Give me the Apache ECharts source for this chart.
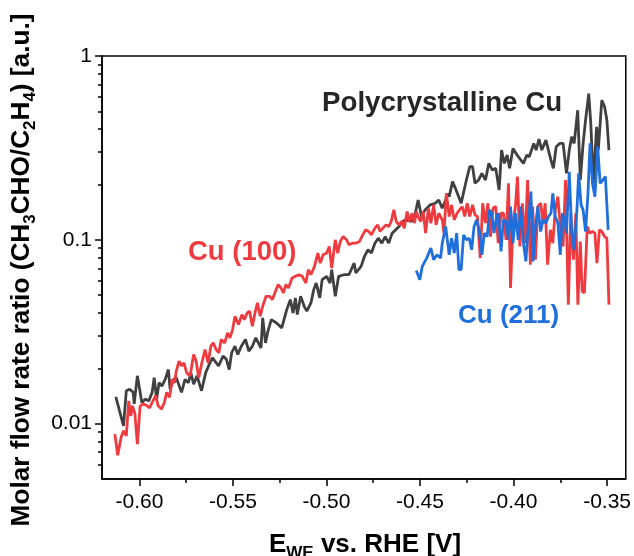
<!DOCTYPE html>
<html>
<head>
<meta charset="utf-8">
<script src="https://cdn.jsdelivr.net/npm/echarts@6.0.0/dist/echarts.min.js"></script>
<style>
html,body{margin:0;padding:0;background:#fff;}
#chart{width:634px;height:556px;}
</style>
</head>
<body>
<div id="chart"></div>
<script>
// ---- data ----
const polyX = [-0.6126,-0.6085,-0.6070,-0.6052,-0.6033,-0.6028,-0.6011,-0.5996,-0.5987,-0.5969,-0.5950,-0.5932,-0.5921,-0.5908,-0.5895,-0.5880,-0.5862,-0.5845,-0.5836,-0.5817,-0.5803,-0.5775,-0.5756,-0.5738,-0.5725,-0.5710,-0.5692,-0.5668,-0.5646,-0.5627,-0.5609,-0.5577,-0.5553,-0.5535,-0.5520,-0.5507,-0.5489,-0.5474,-0.5455,-0.5433,-0.5415,-0.5396,-0.5378,-0.5350,-0.5341,-0.5326,-0.5313,-0.5295,-0.5267,-0.5239,-0.5212,-0.5193,-0.5179,-0.5166,-0.5156,-0.5138,-0.5119,-0.5105,-0.5083,-0.5068,-0.5055,-0.5036,-0.5023,-0.4999,-0.4981,-0.4972,-0.4953,-0.4935,-0.4907,-0.4880,-0.4852,-0.4843,-0.4815,-0.4797,-0.4778,-0.4760,-0.4741,-0.4723,-0.4704,-0.4686,-0.4667,-0.4649,-0.4630,-0.4612,-0.4593,-0.4575,-0.4547,-0.4529,-0.4510,-0.4492,-0.4473,-0.4446,-0.4418,-0.4400,-0.4381,-0.4363,-0.4353,-0.4344,-0.4326,-0.4307,-0.4280,-0.4252,-0.4234,-0.4219,-0.4206,-0.4187,-0.4169,-0.4150,-0.4132,-0.4113,-0.4095,-0.4077,-0.4064,-0.4049,-0.4034,-0.4021,-0.4003,-0.3975,-0.3947,-0.3929,-0.3916,-0.3892,-0.3879,-0.3864,-0.3849,-0.3827,-0.3818,-0.3800,-0.3787,-0.3772,-0.3753,-0.3735,-0.3717,-0.3702,-0.3689,-0.3676,-0.3657,-0.3643,-0.3628,-0.3615,-0.3598,-0.3587,-0.3573,-0.3556,-0.3547,-0.3528,-0.3513,-0.3501,-0.3490];
const polyY = [0.0140,0.00973,0.0151,0.0154,0.0148,0.0128,0.0182,0.0148,0.0130,0.0136,0.0133,0.0148,0.0178,0.0136,0.0167,0.0160,0.0174,0.0197,0.0154,0.0174,0.0178,0.0148,0.0174,0.0167,0.0189,0.0164,0.0182,0.0151,0.0189,0.0210,0.0228,0.0206,0.0233,0.0224,0.0197,0.0243,0.0264,0.0238,0.0264,0.0287,0.0248,0.0264,0.0293,0.0258,0.0376,0.0275,0.0318,0.0368,0.0353,0.0332,0.0418,0.0473,0.0400,0.0483,0.0392,0.0493,0.0435,0.0409,0.0454,0.0536,0.0582,0.0483,0.0607,0.0633,0.0582,0.0688,0.0493,0.0633,0.0646,0.0646,0.0747,0.0660,0.0717,0.0812,0.0883,0.0847,0.0959,0.1021,0.0959,0.1042,0.0959,0.1087,0.1133,0.1181,0.1258,0.1284,0.1258,0.1339,0.1648,0.1339,0.1455,0.1549,0.1581,0.1648,0.1486,0.1648,0.1791,0.1718,0.2073,0.1867,0.1581,0.2116,0.2499,0.2499,0.2030,0.2116,0.2299,0.2116,0.2606,0.2397,0.2448,0.1867,0.3078,0.2606,0.2892,0.2448,0.3143,0.2832,0.2606,0.2892,0.2832,0.3345,0.3078,0.3531,0.3078,0.3487,0.3560,0.2716,0.2448,0.3208,0.3345,0.3345,0.2299,0.3078,0.3635,0.3345,0.5072,0.2116,0.3345,0.4477,0.6247,0.4294,0.2030,0.4119,0.3078,0.5747,0.5287,0.4477,0.3078];

const cu100X = [-0.6131,-0.6116,-0.6098,-0.6085,-0.6070,-0.6057,-0.6046,-0.6037,-0.6024,-0.6011,
-0.5996,-0.5978,-0.5959,-0.5946,-0.5932,-0.5913,-0.5900,-0.5882,-0.5867,-0.5854,
-0.5839,-0.5825,-0.5812,-0.5803,-0.5788,-0.5775,-0.5762,-0.5747,-0.5729,-0.5710,
-0.5697,-0.5683,-0.5664,-0.5649,-0.5633,-0.5618,-0.5605,-0.5590,-0.5575,-0.5563,
-0.5544,-0.5529,-0.5516,-0.5502,-0.5489,-0.5470,-0.5452,-0.5439,-0.5424,-0.5411,
-0.5396,-0.5382,-0.5369,-0.5354,-0.5341,-0.5323,-0.5304,-0.5289,-0.5276,-0.5258,
-0.5243,-0.5230,-0.5217,-0.5203,-0.5184,-0.5166,-0.5147,-0.5129,-0.5110,-0.5097,
-0.5083,-0.5064,-0.5046,-0.5033,-0.5018,-0.4999,-0.4985,-0.4972,-0.4953,-0.4940,
-0.4926,-0.4911,-0.4892,-0.4880,-0.4861,-0.4843,-0.4824,-0.4806,-0.4791,-0.4774,
-0.4760,-0.4741,-0.4726,-0.4713,-0.4699,-0.4682,-0.4667,-0.4654,-0.4640,-0.4627,
-0.4612,-0.4597,-0.4584,-0.4569,-0.4556,-0.4542,-0.4529,-0.4520,-0.4510,-0.4496,
-0.4483,-0.4470,-0.4455,-0.4442,-0.4427,-0.4414,-0.4400,-0.4381,-0.4372,-0.4359,
-0.4344,-0.4331,-0.4317,-0.4302,-0.4289,-0.4274,-0.4261,-0.4248,-0.4234,-0.4219,
-0.4206,-0.4193,-0.4178,-0.4165,-0.4150,-0.4137,-0.4123,-0.4110,-0.4095,-0.4082,
-0.4067,-0.4054,-0.4040,-0.4027,-0.4016,-0.4003,-0.3990,-0.3979,-0.3966,-0.3953,
-0.3938,-0.3925,-0.3910,-0.3898,-0.3883,-0.3870,-0.3855,-0.3842,-0.3831,-0.3818,
-0.3803,-0.3790,-0.3777,-0.3763,-0.3750,-0.3735,-0.3722,-0.3707,-0.3694,-0.3680,
-0.3667,-0.3656,-0.3643,-0.3633,-0.3621,-0.3606,-0.3593,-0.3578,-0.3565,-0.3554,
-0.3541,-0.3528,-0.3513,-0.3501,-0.3490];
const cu100Y = [0.00877,0.00673,0.00841,0.00914,0.00859,0.0133,0.0110,0.0125,0.0113,0.00774,
0.0125,0.0128,0.0125,0.0122,0.0130,0.0142,0.0125,0.0120,0.0130,0.0148,
0.0139,0.0174,0.0167,0.0193,0.0219,0.0206,0.0214,0.0189,0.0182,0.0238,
0.0219,0.0178,0.0219,0.0253,0.0214,0.0264,0.0275,0.0253,0.0243,0.0287,
0.0275,0.0312,0.0293,0.0325,0.0384,0.0346,0.0392,0.0368,0.0400,0.0409,
0.0339,0.0400,0.0454,0.0384,0.0435,0.0493,0.0493,0.0473,0.0514,0.0571,
0.0547,0.0514,0.0571,0.0547,0.0620,0.0633,0.0646,0.0633,0.0582,0.0688,
0.0646,0.0717,0.0847,0.0747,0.0829,0.0847,0.0920,0.0702,0.1000,0.0847,
0.0979,0.1042,0.1000,0.0940,0.0959,0.0959,0.0979,0.1064,0.1133,0.1110,
0.1064,0.1157,0.1206,0.1110,0.1157,0.1206,0.1181,0.1258,0.1455,0.1258,
0.1206,0.1258,0.1157,0.1425,0.1258,0.1395,0.1232,0.1425,0.1339,0.1258,
0.1425,0.1087,0.1486,0.1232,0.1549,0.1206,0.1395,0.1284,0.1087,0.1791,
0.1339,0.1549,0.1284,0.1395,0.1455,0.1517,0.1339,0.1581,0.1339,0.1549,
0.1367,0.1339,0.0796,0.1581,0.1232,0.1581,0.1042,0.1486,0.1517,0.0959,
0.1395,0.1395,0.1000,0.2030,0.0547,0.1232,0.1517,0.2206,0.0920,0.1581,
0.0959,0.2116,0.0732,0.1517,0.0779,0.1517,0.1581,0.1232,0.1581,0.0732,
0.1133,0.0959,0.1455,0.1718,0.1181,0.0920,0.2116,0.0444,0.1395,0.0779,
0.1395,0.0444,0.0979,0.0525,0.0514,0.1181,0.1087,0.1110,0.1087,0.0747,
0.1133,0.1110,0.1042,0.1021,0.0444];

const cu211X = [-0.4520,-0.4501,-0.4488,-0.4464,-0.4442,-0.4427,-0.4409,-0.4390,-0.4381,-0.4363,
-0.4344,-0.4331,-0.4317,-0.4304,-0.4292,-0.4280,-0.4267,-0.4252,-0.4237,-0.4224,
-0.4211,-0.4197,-0.4184,-0.4169,-0.4156,-0.4141,-0.4128,-0.4117,-0.4104,-0.4091,
-0.4080,-0.4067,-0.4054,-0.4040,-0.4027,-0.4016,-0.4003,-0.3990,-0.3975,-0.3962,
-0.3947,-0.3934,-0.3920,-0.3907,-0.3896,-0.3883,-0.3870,-0.3855,-0.3842,-0.3827,
-0.3813,-0.3800,-0.3790,-0.3777,-0.3763,-0.3750,-0.3739,-0.3726,-0.3717,-0.3702,
-0.3689,-0.3676,-0.3661,-0.3652,-0.3639,-0.3628,-0.3615,-0.3602,-0.3591,-0.3578,
-0.3565,-0.3550,-0.3537,-0.3522,-0.3509,-0.3494];
const cu211Y = [0.0681,0.0607,0.0717,0.0796,0.0901,0.0779,0.0829,0.0796,0.0959,0.1181,
0.0829,0.1021,0.0847,0.1087,0.0688,0.0688,0.1064,0.1000,0.1021,0.0883,
0.1181,0.1284,0.1133,0.0829,0.1087,0.1042,0.1455,0.1395,0.1087,0.1339,
0.1395,0.0865,0.1284,0.1258,0.1000,0.1517,0.0959,0.1395,0.1000,0.1517,
0.0959,0.0763,0.1258,0.1829,0.0763,0.1181,0.1517,0.1110,0.1284,0.1232,
0.1339,0.1395,0.1791,0.1339,0.1232,0.0829,0.1395,0.1284,0.1087,0.2347,
0.1087,0.0883,0.1455,0.2299,0.1549,0.1455,0.1110,0.1791,0.3345,0.2030,
0.1718,0.3208,0.2030,0.2116,0.2206,0.1133];

// ---- axis ticks ----
const xMajorTicks = [-0.60,-0.55,-0.50,-0.45,-0.40,-0.35];
const xMinorTicks = [-0.575,-0.525,-0.475,-0.425,-0.375];
const yMajorTicks = [0.01,0.1,1];
const yMinorTicks = [0.006,0.007,0.008,0.009,0.02,0.03,0.04,0.05,0.06,0.07,0.08,0.09,0.2,0.3,0.4,0.5,0.6,0.7,0.8,0.9];

const FONT = 'Liberation Sans, Arial, Helvetica, sans-serif';
const C_POLY = '#404040', C_100 = '#ef3b3f', C_211 = '#1f6fdc';

function zip(xs, ys){ const n=Math.min(xs.length, ys.length); const out=[]; for(let i=0;i<n;i++) out.push([xs[i], ys[i]]); return out; }

const chart = echarts.init(document.getElementById('chart'), null, {renderer:'canvas'});
const grid = {left:102, top:56, width:526, height:423, show:true, borderColor:'#000', borderWidth:1.5, backgroundColor:'transparent'};

chart.setOption({
  animation:false,
  grid: grid,
  xAxis: [
    {type:'value', min:-0.62, max:-0.34, position:'bottom',
     axisLine:{show:true, lineStyle:{color:'#000', width:1.5}},
     axisTick:{show:true, customValues:xMajorTicks, length:7, lineStyle:{color:'#000', width:1.5}},
     axisLabel:{customValues:xMajorTicks, margin:13, fontSize:21, fontFamily:FONT, color:'#000', formatter:v=>v.toFixed(2)},
     splitLine:{show:false}},
    {type:'value', min:-0.62, max:-0.34, position:'bottom',
     axisLine:{show:false},
     axisTick:{show:true, customValues:xMinorTicks, length:4, lineStyle:{color:'#000', width:1.5}},
     axisLabel:{show:false}, splitLine:{show:false}}
  ],
  yAxis: [
    {type:'log', logBase:10, min:0.005, max:1, position:'left',
     axisLine:{show:true, lineStyle:{color:'#000', width:1.5}},
     axisTick:{show:true, customValues:yMajorTicks, length:7, lineStyle:{color:'#000', width:1.5}},
     axisLabel:{customValues:yMajorTicks, margin:10, fontSize:21, fontFamily:FONT, color:'#000', formatter:v=>String(+v.toPrecision(3))},
     splitLine:{show:false}, minorTick:{show:false}},
    {type:'log', logBase:10, min:0.005, max:1, position:'left',
     axisLine:{show:false},
     axisTick:{show:true, customValues:yMinorTicks, length:4, lineStyle:{color:'#000', width:1.5}},
     axisLabel:{show:false}, splitLine:{show:false}}
  ],
  series: [
    {name:'Polycrystalline Cu', type:'line', xAxisIndex:0, yAxisIndex:0, data:zip(polyX, polyY), showSymbol:false, symbol:'none',
     lineStyle:{color:C_POLY, width:2.8}, z:2},
    {name:'Cu (100)', type:'line', xAxisIndex:0, yAxisIndex:0, data:zip(cu100X, cu100Y), showSymbol:false, symbol:'none',
     lineStyle:{color:C_100, width:2.8}, z:3},
    {name:'Cu (211)', type:'line', xAxisIndex:0, yAxisIndex:0, data:zip(cu211X, cu211Y), showSymbol:false, symbol:'none',
     lineStyle:{color:C_211, width:2.8}, z:4}
  ],
  graphic: [
    {type:'text', x:322, y:103, z:10, style:{text:'Polycrystalline Cu', fill:'#262626', font:'bold 27.7px '+FONT, align:'left', verticalAlign:'middle'}},
    {type:'text', x:188, y:252, z:10, style:{text:'Cu (100)', fill:C_100, font:'bold 27.5px '+FONT, align:'left', verticalAlign:'middle'}},
    {type:'text', x:458, y:316, z:10, style:{text:'Cu (211)', fill:C_211, font:'bold 26px '+FONT, align:'left', verticalAlign:'middle'}},
    {type:'text', x:365, y:545, z:10, style:{
      text:'{m|E}{s|WE}{m| vs. RHE [V]}', align:'center', verticalAlign:'middle',
      rich:{
        m:{fontSize:26, fontWeight:'bold', fontFamily:FONT, fill:'#000', lineHeight:34},
        s:{fontSize:17, fontWeight:'bold', fontFamily:FONT, fill:'#000', lineHeight:17, verticalAlign:'bottom'}
      }}},
    {type:'text', x:22, y:270, rotation:Math.PI/2, z:10, style:{
      text:'{m|Molar flow rate ratio (CH}{s|3}{m|CHO/C}{s|2}{m|H}{s|4}{m|) [a.u.]}', align:'center', verticalAlign:'middle',
      rich:{
        m:{fontSize:26.2, fontWeight:'bold', fontFamily:FONT, fill:'#000', lineHeight:34},
        s:{fontSize:17, fontWeight:'bold', fontFamily:FONT, fill:'#000', lineHeight:17, verticalAlign:'bottom'}
      }}}
  ]
});
</script>
</body>
</html>
